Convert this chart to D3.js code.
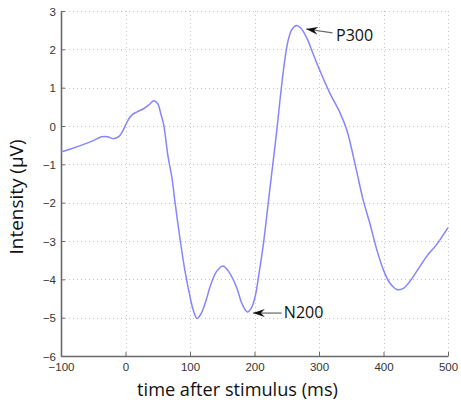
<!DOCTYPE html>
<html><head><meta charset="utf-8">
<script src="https://cdn.jsdelivr.net/npm/d3@7"></script>
<style>body{margin:0;background:#fff}svg{display:block}</style>
</head><body>
<svg id="c" width="461" height="400"></svg>
<script>
const timeMs = [-100,-85,-68,-50,-37,-28,-19,-10,-4,3,10,18,28,37,44,50,55,59,66,72,77,85,92,100,105,111,117,124,132,141,151,160,172,181,189,195,201,207,214,221,228,234,240,246,252,258,265,272,281,291,301,317,333,343,358,368,379,390,400,410,422,432,441,455,467,482,500];
const intensity = [-0.68,-0.6,-0.5,-0.38,-0.28,-0.28,-0.33,-0.27,-0.12,0.12,0.29,0.37,0.45,0.56,0.66,0.58,0.3,0.05,-0.8,-1.35,-2.02,-3.0,-3.76,-4.45,-4.8,-5.02,-4.9,-4.6,-4.15,-3.8,-3.65,-3.8,-4.2,-4.65,-4.85,-4.75,-4.45,-3.85,-3.05,-2.05,-1.05,-0.2,0.75,1.6,2.22,2.52,2.62,2.55,2.3,1.88,1.46,0.85,0.33,-0.1,-1.15,-1.9,-2.55,-3.25,-3.76,-4.1,-4.27,-4.22,-4.05,-3.7,-3.4,-3.1,-2.65];
const xTicks = [-100,0,100,200,300,400,500];
const yTicks = [-6,-5,-4,-3,-2,-1,0,1,2,3];
const xTitle = "time after stimulus (ms)";
const yTitle = "Intensity (µV)";
const annotations = [
  {label:"P300", tip:[280,2.53], tail:[321,2.43], text:[326.5,2.22]},
  {label:"N200", tip:[197.5,-4.88], tail:[242,-4.88], text:[245.5,-5.01]}
];

const svg = d3.select("#c");
const x = d3.scaleLinear().domain([-100,500]).range([61,448]);
const y = d3.scaleLinear().domain([-6,3]).range([356,11]);

// grid
const grid = svg.append("g").attr("stroke","#c4c4c4").attr("stroke-width",1).attr("stroke-dasharray","1,3");
grid.selectAll(".gx").data(xTicks).join("line")
  .attr("x1",d=>Math.round(x(d))+0.5).attr("x2",d=>Math.round(x(d))+0.5)
  .attr("y1",y(3)).attr("y2",y(-6));
grid.selectAll(".gy").data(yTicks).join("line")
  .attr("y1",d=>Math.round(y(d))+0.5).attr("y2",d=>Math.round(y(d))+0.5)
  .attr("x1",x(-100)).attr("x2",x(500));

// axes
const fmt = d => d < 0 ? "\u2212" + Math.abs(d) : String(d);
const xAxis = svg.append("g").attr("transform",`translate(0,${y(-6)})`)
  .call(d3.axisBottom(x).tickValues(xTicks).tickFormat(fmt).tickSizeInner(-4).tickSizeOuter(0).tickPadding(7));
const yAxis = svg.append("g").attr("transform",`translate(${x(-100)},0)`)
  .call(d3.axisLeft(y).tickValues(yTicks).tickFormat(fmt).tickSizeInner(-4).tickSizeOuter(0).tickPadding(5));
[xAxis,yAxis].forEach(a=>{
  a.select(".domain").attr("stroke","#6a6a6a").attr("stroke-width",1.6);
  a.selectAll(".tick line").attr("stroke","#6a6a6a").attr("stroke-width",1);
  a.selectAll(".tick text").attr("fill","#333").style("font-family","'Liberation Sans',Arial,sans-serif").style("font-size","11.5px");
});
yAxis.selectAll(".tick text").attr("dy","0.36em");

// line
const line = d3.line().x(d=>x(d[0])).y(d=>y(d[1])).curve(d3.curveCatmullRom.alpha(0.5));
svg.append("path").datum(timeMs.map((t,i)=>[t,intensity[i]]))
  .attr("d",line).attr("fill","none").attr("stroke","#8585ff").attr("stroke-width",1.5);

// annotations
const defs = svg.append("defs");
defs.append("marker").attr("id","arr").attr("viewBox","0 0 12 8").attr("refX",12).attr("refY",4)
  .attr("markerWidth",12).attr("markerHeight",8).attr("markerUnits","userSpaceOnUse").attr("orient","auto")
  .append("path").attr("d","M12,4 L0,0 L4,4 L0,8 Z").attr("fill","#111");
annotations.forEach(a=>{
  svg.append("line").attr("x1",x(a.tail[0])).attr("y1",y(a.tail[1]))
    .attr("x2",x(a.tip[0])).attr("y2",y(a.tip[1]))
    .attr("stroke","#666").attr("stroke-width",1.2).attr("marker-end","url(#arr)");
  svg.append("text").attr("x",x(a.text[0])).attr("y",y(a.text[1])).text(a.label)
    .style("font-family","'Open Sans',Lato,sans-serif").style("font-size","16px").attr("fill","#111");
});

// titles
function fit(sel, target){
  const w = sel.node().getComputedTextLength();
  const fs = parseFloat(sel.style("font-size"));
  sel.style("font-size", (fs*target/w).toFixed(2)+"px");
}
const xt = svg.append("text").attr("x",237.5).attr("y",396).attr("text-anchor","middle").text(xTitle)
  .style("font-family","'Open Sans',Lato,sans-serif").style("font-size","17px").attr("fill","#111");
fit(xt, 201);
const yt = svg.append("text").attr("transform","translate(23,197) rotate(-90)").attr("text-anchor","middle").text(yTitle)
  .style("font-family","'Open Sans',Lato,sans-serif").style("font-size","17px").attr("fill","#111");
fit(yt, 115);
</script>
</body></html>
